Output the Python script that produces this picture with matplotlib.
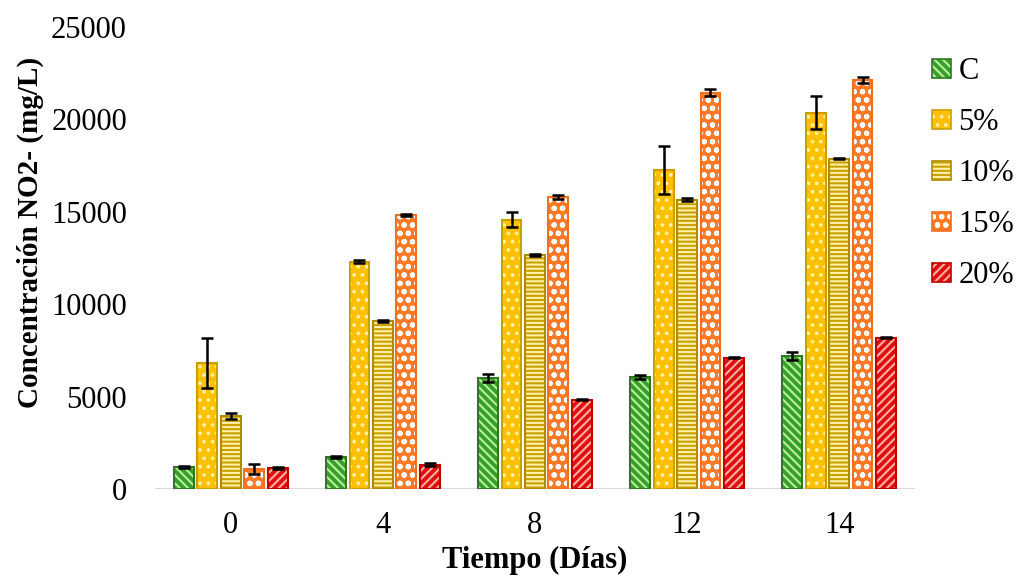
import matplotlib.pyplot as plt
import numpy as np

days = ["0", "4", "8", "12", "14"]
series = ["C", "5%", "10%", "15%", "20%"]

val_c = [1190, 1730, 6010, 6060, 7200]
val_5 = [6820, 12280, 14560, 17260, 20350]
val_10 = [3950, 9090, 12660, 15640, 17860]
val_15 = [1080, 14800, 15800, 21430, 22130]
val_20 = [1140, 1300, 4820, 7090, 8170]

err_c = [60, 70, 200, 100, 200]
err_5 = [1350, 80, 400, 1300, 900]
err_10 = [150, 60, 40, 80, 30]
err_15 = [250, 60, 100, 200, 150]
err_20 = [60, 80, 30, 30, 30]

values = [val_c, val_5, val_10, val_15, val_20]
errors = [err_c, err_5, err_10, err_15, err_20]

# fill, hatch colour, outline colour, hatch
styles = [
    ("#38a02a", "#b8f0a0", "#2e7a1e", "\\\\\\\\"),
    ("#ffc000", "#fff0b0", "#c9a000", ".."),
    ("#c8a000", "#fff0a8", "#b08a00", "----"),
    ("#ff7a26", "#ffffff", "#f07020", "oo"),
    ("#e01010", "#ffb0a0", "#c00000", "////"),
]

plt.rcParams["font.family"] = "Liberation Serif"
plt.rcParams["hatch.linewidth"] = 1.5

fig = plt.figure(figsize=(10.18, 5.86), dpi=100)
ax = fig.add_axes([0.152, 0.1655, 0.747, 0.789])

x = np.arange(len(days))
step = 0.154
width = 0.13

handles = []
for i, (name, vals, errs) in enumerate(zip(series, values, errors)):
    fill, hcol, ecol, hatch = styles[i]
    pos = x + (i - 2) * step
    ax.bar(pos, vals, width, color=fill, edgecolor=hcol, hatch=hatch, linewidth=0, zorder=2)
    ax.bar(pos, vals, width, fill=False, edgecolor=ecol, linewidth=1.5, zorder=3)
    ax.errorbar(pos, vals, yerr=errs, fmt="none", ecolor="black", elinewidth=1.8,
                capsize=4.5, capthick=1.8, zorder=4)
    h1 = plt.Rectangle((0, 0), 1, 1, facecolor=fill, edgecolor=hcol, hatch=hatch, linewidth=0)
    h2 = plt.Rectangle((0, 0), 1, 1, fill=False, edgecolor=ecol, linewidth=1.2)
    handles.append((h1, h2))

ax.axhline(0, color="#d9d9d9", linewidth=1.5, zorder=1)
ax.set_xlim(-0.5, 4.5)
ax.set_ylim(0, 25000)
ax.set_yticks(range(0, 25001, 5000))
ax.set_xticks(x)
ax.set_xticklabels(days)
ax.tick_params(axis="both", length=0, labelsize=22)
ax.tick_params(axis="y", pad=20)
ax.tick_params(axis="x", pad=16)
for s in ax.spines.values():
    s.set_visible(False)

ax.set_ylabel("Concentración NO2- (mg/L)", fontsize=21, fontweight="bold")
ax.yaxis.set_label_coords(-0.146, 0.556)
ax.set_xlabel("Tiempo (Días)", fontsize=22, fontweight="bold", labelpad=4)

fig.legend(handles, series, loc="upper left", bbox_to_anchor=(0.916, 0.902),
           frameon=False, fontsize=22, handlelength=0.6, handleheight=0.6,
           handletextpad=0.25, labelspacing=0.72, borderaxespad=0, borderpad=0)

fig.savefig("out.png", dpi=100)
